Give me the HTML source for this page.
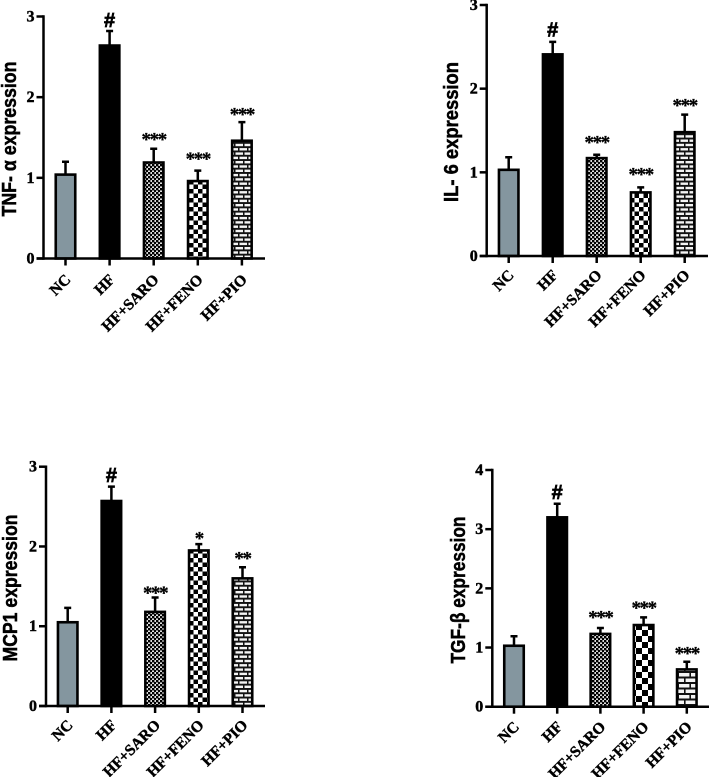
<!DOCTYPE html>
<html>
<head>
<meta charset="utf-8">
<style>
html,body{margin:0;padding:0;background:#fff;}
svg{display:block;filter:blur(0.3px);}
.tick{font:bold 16px "Liberation Serif",serif;fill:#000;stroke:#000;stroke-width:.45px;}
.xtick{font:bold 15.5px "Liberation Serif",serif;fill:#000;stroke:#000;stroke-width:.45px;}
.title{font:bold 20px "Liberation Sans",sans-serif;fill:#000;stroke:#000;stroke-width:.5px;}
.sig{font:bold 19px "Liberation Serif",serif;fill:#000;stroke:#000;stroke-width:.3px;text-anchor:middle;letter-spacing:-1.4px;}
.hash{font:bold 20px "Liberation Sans",sans-serif;fill:#000;stroke:#000;stroke-width:.7px;text-anchor:middle;}
</style>
</head>
<body>
<svg id="figure" xmlns="http://www.w3.org/2000/svg" width="709" height="777" viewBox="0 0 709 777">
<defs>
<pattern id="fine" width="4" height="4" patternUnits="userSpaceOnUse">
<rect width="4" height="4" fill="#ddd"/>
<rect width="2.4" height="2.4" fill="#000"/>
<rect x="2" y="2" width="2.4" height="2.4" fill="#000"/>
</pattern>
<pattern id="check" width="9" height="9" patternUnits="userSpaceOnUse">
<rect width="9" height="9" fill="#fff"/>
<rect width="4.5" height="4.5" fill="#000"/>
<rect x="4.5" y="4.5" width="4.5" height="4.5" fill="#000"/>
</pattern>
<pattern id="check-large" width="12" height="12" patternUnits="userSpaceOnUse">
<rect width="12" height="12" fill="#fff"/>
<rect width="6" height="6" fill="#000"/>
<rect x="6" y="6" width="6" height="6" fill="#000"/>
</pattern>
<pattern id="brick" width="9" height="8.6" patternUnits="userSpaceOnUse">
<rect width="9" height="8.6" fill="#f4f4f4"/>
<rect width="9" height="1.9" fill="#111"/>
<rect y="4.3" width="9" height="1.9" fill="#111"/>
<rect x="4" width="1.5" height="4.3" fill="#111"/>
<rect x="0" y="4.3" width="1.5" height="4.3" fill="#111"/>
</pattern>
<pattern id="brick-large" width="12" height="11" patternUnits="userSpaceOnUse">
<rect width="12" height="11" fill="#f4f4f4"/>
<rect width="12" height="2" fill="#111"/>
<rect y="5.5" width="12" height="2" fill="#111"/>
<rect x="5.4" width="1.6" height="5.5" fill="#111"/>
<rect x="0" y="5.5" width="1.6" height="5.5" fill="#111"/>
</pattern>
</defs>
</svg>
<script>
var categories = ['NC', 'HF', 'HF+SARO', 'HF+FENO', 'HF+PIO'];

var tnfValues = [1.04, 2.64, 1.19, 0.96, 1.46];
var tnfErrors = [0.16, 0.18, 0.17, 0.13, 0.23];
var tnfSigLabels = ['', '#', '***', '***', '***'];
var tnfSigLift = [0, 0.136, 0.153, 0.18, 0.132];
var tnfTicks = [0, 1, 2, 3];

var il6Values = [1.03, 2.41, 1.17, 0.76, 1.48];
var il6Errors = [0.15, 0.15, 0.04, 0.06, 0.21];
var il6SigLabels = ['', '#', '***', '***', '***'];
var il6SigLift = [0, 0.15, 0.18, 0.187, 0.143];
var il6Ticks = [0, 1, 2, 3];

var mcpValues = [1.05, 2.57, 1.18, 1.95, 1.6];
var mcpErrors = [0.18, 0.18, 0.18, 0.08, 0.14];
var mcpSigLabels = ['', '#', '***', '*', '**'];
var mcpSigLift = [0, 0.146, 0.096, 0.109, 0.146];
var mcpTicks = [0, 1, 2, 3];

var tgfValues = [1.03, 3.2, 1.23, 1.38, 0.63];
var tgfErrors = [0.16, 0.23, 0.1, 0.13, 0.13];
var tgfSigLabels = ['', '#', '***', '***', '***'];
var tgfSigLift = [0, 0.197, 0.225, 0.208, 0.186];
var tgfTicks = [0, 1, 2, 3, 4];

var NS = 'http://www.w3.org/2000/svg';
var svg = document.getElementById('figure');

function make(tag, parent, props) {
  var el = document.createElementNS(NS, tag);
  for (var k in props) el.setAttribute(k, props[k]);
  parent.appendChild(el);
  return el;
}

function drawPanel(cfg) {
  var g = make('g', svg, {});
  
  

  var maxTick = cfg.ticks[cfg.ticks.length - 1];
  function yScale(v) { return cfg.y0 - (v / maxTick) * (cfg.y0 - cfg.yTop); }
  function xScale(i) { return cfg.x0 + i * cfg.step; }

  var fills = ['#84969f', '#000', 'url(#fine)', 'url(#' + cfg.check + ')', 'url(#' + cfg.brick + ')'];
  var barW = 19.5;

  categories.forEach(function (name, i) {
    var cx = xScale(i);
    var top = yScale(cfg.values[i]);
    var errTop = yScale(cfg.values[i] + cfg.errors[i]);

    var whisker = make('path', g, {
      d: 'M' + cx + ' ' + top + 'V' + errTop + 'M' + (cx - 3.5) + ' ' + errTop + 'H' + (cx + 3.5),
      stroke: '#000', 'stroke-width': 2.5, fill: 'none'
    });
    
    

    var bar = make('rect', g, {
      x: cx - barW / 2, y: top, width: barW, height: cfg.y0 - top,
      fill: fills[i], stroke: '#000', 'stroke-width': 2.6
    });
    
    

    var tickMark = make('line', g, {
      x1: cx, x2: cx, y1: cfg.y0, y2: cfg.y0 + 7, stroke: '#000', 'stroke-width': 2.5
    });
    
    

    var lx = cx + 6;
    var ly = cfg.y0 + cfg.labelDrop;
    var label = make('text', g, {
      x: lx, y: ly, 'class': 'xtick', 'text-anchor': 'end',
      transform: 'rotate(-45 ' + lx + ' ' + ly + ')'
    });
    label.textContent = name;
    
    

    var mark = cfg.sigLabels[i];
    if (mark) {
      var isHash = mark === '#';
      var sy = yScale(cfg.values[i] + cfg.errors[i] + cfg.sigLift[i]) + (isHash ? 7 : 9);
      var sig = make('text', g, { x: cx, y: sy, 'class': isHash ? 'hash' : 'sig' });
      sig.textContent = mark;
      
      
    }
  });

  var xAxis = make('line', g, {
    x1: cfg.axisX - 7, x2: cfg.xEnd, y1: cfg.y0, y2: cfg.y0, stroke: '#000', 'stroke-width': 2.5
  });
  
  

  var yAxis = make('line', g, {
    x1: cfg.axisX, x2: cfg.axisX, y1: cfg.yTop - 1.2, y2: cfg.y0 + 1.2, stroke: '#000', 'stroke-width': 2.5
  });
  
  

  cfg.ticks.forEach(function (t) {
    var ty = yScale(t);
    var yTick = make('line', g, {
      x1: cfg.axisX - 7, x2: cfg.axisX, y1: ty, y2: ty, stroke: '#000', 'stroke-width': 2.5
    });
    
    

    var yLabel = make('text', g, {
      x: cfg.axisX - 9, y: ty + 5, 'class': 'tick', 'text-anchor': 'end'
    });
    yLabel.textContent = t;
    
    
  });

  var title = make('text', g, {
    x: cfg.titleX, y: cfg.titleY, 'class': 'title', 'text-anchor': 'middle',
    textLength: cfg.titleLen, lengthAdjust: 'spacingAndGlyphs',
    transform: 'rotate(-90 ' + cfg.titleX + ' ' + cfg.titleY + ')'
  });
  title.textContent = cfg.title;
  
  
}

drawPanel({ key: 'tnf', title: 'TNF- \u03B1 expression', values: tnfValues, errors: tnfErrors,
  sigLabels: tnfSigLabels, sigLift: tnfSigLift, ticks: tnfTicks,
  axisX: 43.5, x0: 65.5, step: 44.1, y0: 258.5, yTop: 16.5, xEnd: 265, labelDrop: 22,
  titleX: 16, titleY: 139, titleLen: 155, check: 'check', brick: 'brick' });

drawPanel({ key: 'il6', title: 'IL- 6 expression', values: il6Values, errors: il6Errors,
  sigLabels: il6SigLabels, sigLift: il6SigLift, ticks: il6Ticks,
  axisX: 486.7, x0: 508.7, step: 44, y0: 256, yTop: 5, xEnd: 708, labelDrop: 20,
  titleX: 458, titleY: 132, titleLen: 140, check: 'check', brick: 'brick' });

drawPanel({ key: 'mcp1', title: 'MCP1 expression', values: mcpValues, errors: mcpErrors,
  sigLabels: mcpSigLabels, sigLift: mcpSigLift, ticks: mcpTicks,
  axisX: 46, x0: 67.7, step: 43.7, y0: 706, yTop: 466.7, xEnd: 265, labelDrop: 20,
  titleX: 17, titleY: 588, titleLen: 147, check: 'check', brick: 'brick' });

drawPanel({ key: 'tgf', title: 'TGF-\u03B2 expression', values: tgfValues, errors: tgfErrors,
  sigLabels: tgfSigLabels, sigLift: tgfSigLift, ticks: tgfTicks,
  axisX: 492.3, x0: 514, step: 43.2, y0: 706.7, yTop: 470, xEnd: 709, labelDrop: 21,
  titleX: 465, titleY: 590, titleLen: 147, check: 'check-large', brick: 'brick-large' });
</script>
</body>
</html>
